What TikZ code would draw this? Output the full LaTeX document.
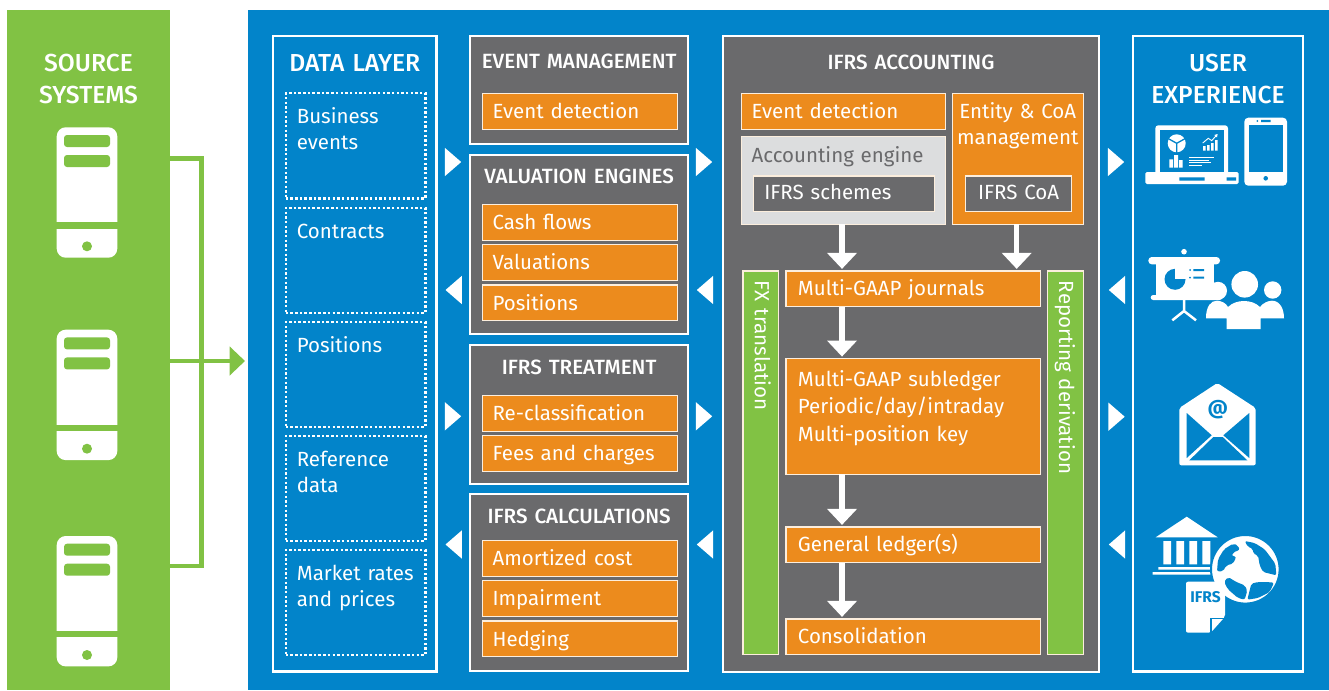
\documentclass[tikz,border=0pt]{standalone}
\usepackage{fontspec}
\setmainfont{Fira Sans}
\newfontfamily\medfont{Fira Sans Medium}
\usetikzlibrary{positioning}
\usetikzlibrary{arrows.meta}
\definecolor{srcgreen}{HTML}{81C244}
\definecolor{layerblue}{HTML}{0284CA}
\definecolor{rowamber}{HTML}{EC8B1D}
\definecolor{slate}{HTML}{6A6A6C}
\definecolor{mist}{HTML}{DCDDDE}
\newcommand{\bodyfont}{\fontsize{20.5}{26}\selectfont}
\newcommand{\headfont}{\medfont\fontsize{20.6}{32}\selectfont}
\newcommand{\bigfont}{\medfont\fontsize{24.6}{32}\selectfont}
\tikzset{
    cell/.style n args={3}{text width=#1, text height=#2, text depth=#3},
    column/.style={draw=white, line width=2.4pt, anchor=north west, outer sep=0pt, inner sep=0pt, text=white, align=center, font=\bigfont},
    panel/.style={draw=white, line width=2pt, fill=slate, anchor=north west, outer sep=0pt, inner sep=0pt, text=white, align=center, font=\headfont},
    slot/.style={draw=white, line width=2.4pt, dash pattern=on 2.4pt off 2.27pt, anchor=north west, outer sep=0pt, inner xsep=11pt, inner ysep=0pt, text=white, align=left, font=\bodyfont, cell={117.5pt}{30.6pt}{74.4pt}},
    tile/.style={draw=white!85!rowamber, line width=1.2pt, fill=rowamber, anchor=north west, outer sep=0pt, inner xsep=10pt, inner ysep=0pt, text=white, align=left, font=\bodyfont},
    row/.style={tile, cell={174.5pt}{25pt}{10.8pt}},
    wide/.style={tile, inner xsep=12pt, cell={230.5pt}{25pt}{10.8pt}},
    bar/.style={tile, fill=srcgreen, rotate=-90, anchor=west, cell={363.6pt}{24pt}{11.8pt}},
    flow/.style={draw=white, line width=5.5pt, shorten >=2pt, -{Triangle[length=16pt,width=29pt]}},
    feed/.style={draw=srcgreen, line width=4.8pt},
    gofwd/.pic={\fill[white] (-8.2,-14.2) -- (8.2,0) -- (-8.2,14.2) -- cycle;},
    goback/.pic={\fill[white] (8.2,-14.2) -- (-8.2,0) -- (8.2,14.2) -- cycle;},
    server/.pic={
        \fill[white, rounded corners=9pt] (-30.3,0) rectangle (30.3,130.4);
        \fill[srcgreen] (-31,95) rectangle (31,101.4);
        \fill[srcgreen, rounded corners=3pt] (-23,7.7) rectangle (23,19.7);
        \fill[srcgreen, rounded corners=3pt] (-23,27.7) rectangle (23,39.7);
        \fill[srcgreen] (0,119) circle (5pt);
    }
}

\begin{document}
\begin{tikzpicture}[x=1pt,y=-1pt]
    \useasboundingbox (0,0) rectangle (1329,690);
    \fill[srcgreen] (7,10) rectangle (170,690);
    \fill[layerblue] (248,10) rectangle (1329,690);

    % source systems
    \node[column, draw=none, cell={163pt}{35.5pt}{33pt}] (srchead) at (7,36.2) {SOURCE\\SYSTEMS};
    \pic at (87,127.3) {server};
    \pic at (87,329.7) {server};
    \pic at (87,536) {server};
    \coordinate (srcA) at (170,158.7);
    \coordinate (srcB) at (170,361);
    \coordinate (srcC) at (170,566);
    \coordinate (bus) at (201.7,361);
    \coordinate (datain) at (245,361);
    \draw[feed] (srcA) -- (srcA-|bus) -- (srcC-|bus) -- (srcC);
    \draw[feed, -{Triangle[length=15.5pt,width=28.5pt]}] (srcB) -- (datain);

    % data layer
    \node[column, cell={163.2pt}{35.5pt}{599.7pt}] (data) at (273.2,36.2) {DATA LAYER};
    \node[slot] (business) at (285.8,93.3) {Business\\events};
    \node[slot, below=9.7pt of business] (contracts) {Contracts};
    \node[slot, below=9.0pt of contracts] (positions) {Positions};
    \node[slot, below=9.0pt of positions] (refdata) {Reference\\data};
    \node[slot, below=9.0pt of refdata] (market) {\mbox{Market rates}\\and prices};

    % middle panels
    \node[panel, cell={218.3pt}{33pt}{74.7pt}] (evmgmt) at (470,36) {EVENT MANAGEMENT};
    \node[row] (evdetect) at (482.6,93.3) {Event detection};
    \node[panel, cell={218.3pt}{28.8pt}{150.5pt}] (valeng) at (470,154.7) {VALUATION ENGINES};
    \node[row] (cash) at (482.6,204.6) {Cash flows};
    \node[row, below=4.4pt of cash] (valuations) {Valuations};
    \node[row, below=4.4pt of valuations] (valpos) {Positions};
    \node[panel, cell={218.3pt}{28.8pt}{109.6pt}] (treat) at (470,345.3) {IFRS TREATMENT};
    \node[row] (reclass) at (482.6,395.3) {Re-classification};
    \node[row, below=4.4pt of reclass] (fees) {Fees and charges};
    \node[panel, cell={218.3pt}{29pt}{147.7pt}] (calc) at (470,494.3) {IFRS CALCULATIONS};
    \node[row] (amort) at (482.6,540.6) {Amortized cost};
    \node[row, below=4.4pt of amort] (impair) {Impairment};
    \node[row, below=4.4pt of impair] (hedge) {Hedging};

    % accounting
    \node[panel, fill=slate, cell={376.6pt}{33.3pt}{602.4pt}] (acct) at (722.7,36) {IFRS ACCOUNTING};
    \node[tile, cell={183.5pt}{25pt}{10.8pt}] (acdetect) at (741.6,93.9) {Event detection};
    \node[tile, fill=mist, text=slate, cell={183.5pt}{26pt}{62pt}] (engine) at (741.6,136.3) {Accounting engine};
    \node[tile, fill=slate, inner xsep=11pt, cell={158.8pt}{23.3pt}{12.2pt}] (schemes) at (753.3,176) {IFRS schemes};
    \node[tile, align=center, inner xsep=0pt, cell={131pt}{24.6pt}{105.9pt}] (entity) at (952.3,93.9) {Entity \& CoA\\management};
    \node[tile, fill=slate, align=center, inner xsep=0pt, cell={106pt}{23.3pt}{12.2pt}] (coa) at (965.6,176) {IFRS CoA};
    \node[wide] (journals) at (785.9,270.9) {Multi-GAAP journals};
    \node[wide, font=\fontsize{20.5}{27.8}\selectfont, cell={230.5pt}{27.5pt}{88pt}] (subledger) at (785.9,358.6) {Multi-GAAP subledger\\Periodic/day/intraday\\Multi-position key};
    \node[wide] (general) at (785.9,526.9) {General ledger(s)};
    \node[wide] (consol) at (785.9,618.9) {Consolidation};
    \node[bar] (fx) at (760.9,270.9) {FX translation};
    \node[bar] (report) at (1065.2,270.9) {Reporting derivation};
    \coordinate (flowx) at (842,270);
    \coordinate (coax) at (1016.7,270);
    \draw[flow] (engine.south-|flowx) -- (journals.north-|flowx);
    \draw[flow] (entity.south-|coax) -- (journals.north-|coax);
    \draw[flow] (journals.south-|flowx) -- (subledger.north-|flowx);
    \draw[flow] (subledger.south-|flowx) -- (general.north-|flowx);
    \draw[flow] (general.south-|flowx) -- (consol.north-|flowx);

    % user experience
    \node[column, cell={169.6pt}{35.5pt}{599.7pt}] (user) at (1133.2,36.2) {USER\\EXPERIENCE};

    % triangles between the columns
    \foreach \tx/\ty in {453/162,704/162,1116/162,453/416.3,704/416.3,1116.5/416.7} \pic at (\tx,\ty) {gofwd};
    \foreach \tx/\ty in {453.7/290,705/290,1117/290,453.7/544.5,705/544.5,1117/544.5} \pic at (\tx,\ty) {goback};

    % laptop and phone
    \fill[white, rounded corners=3pt] (1155.3,125.3) rectangle (1228,176);
    \fill[layerblue] (1160,129.5) rectangle (1224,171.7);
    \fill[white, rounded corners=1.5pt] (1145.3,172) rectangle (1238.7,184);
    \fill[layerblue] (1179.3,177.3) rectangle (1204.7,180.7) (1226.7,177.3) rectangle (1236,180.7);
    \fill[white] (1176.7,143.3) circle (9pt);
    \draw[layerblue, line width=1.3pt] (1176.7,143.3) -- +(0,10) (1176.7,143.3) -- +(-9,-5) (1176.7,143.3) -- +(9,-5);
    \fill[white] (1169.3,159.3) rectangle (1173,167.7) (1174,155) rectangle (1178,167.7) (1179,160) rectangle (1182.7,167.7);
    \fill[white] (1203,146) rectangle (1205.5,150.7) (1207,145) rectangle (1209.5,150.7) (1211,143) rectangle (1213.5,150.7) (1215,140) rectangle (1217.5,150.7);
    \draw[white, line width=.9pt, -{Triangle[length=3pt,width=3.5pt]}] (1202.7,143) -- (1208.3,138.3) -- (1211.7,140.7) -- (1217.6,134);
    \draw[white, line width=.9pt] (1189.3,157.3) -- (1214,157.3) (1189.3,160) -- (1209,160) (1189.3,162.5) -- (1211,162.5) (1189.3,165) -- (1202,165);
    \fill[white, rounded corners=4pt] (1244.3,117.7) rectangle (1287,185.7);
    \fill[layerblue] (1249,125) rectangle (1282.7,171.7);
    \fill[layerblue] (1265.7,178.3) circle (2.3pt) (1257.3,121) circle (1pt) (1261,120) rectangle (1270.7,122);

    % presentation
    \fill[white] (1184,251.7) circle (2.8pt);
    \fill[white, rounded corners=3.5pt] (1148.3,257) rectangle (1220,264.3);
    \fill[white] (1156,262) rectangle (1214,297);
    \fill[white, rounded corners=2.5pt] (1150.7,295) rectangle (1222,300);
    \fill[white] (1218,290.8) circle (9pt);
    \draw[white, line width=2.5pt] (1184,300) -- (1184,312) (1172.3,320.3) -- (1184,311) -- (1196,320.3);
    \fill[layerblue] (1175,279.3) circle (10.5pt);
    \fill[white] (1175,279.3) rectangle (1186.5,267.8);
    \fill[layerblue] (1190,270) circle (1pt) (1190,277.7) circle (1pt) (1193.3,269) rectangle (1204,271) (1193.3,276.7) rectangle (1204,278.7);
    \fill[white] (1244.7,284.3) circle (13.3pt) (1272.7,290) circle (8.7pt);
    \fill[white] (1206,318.3) .. controls (1206,306) and (1211,300.7) .. (1217,300.7) .. controls (1221,300.7) and (1226,303) .. (1228,307) .. controls (1232,303) and (1238,301) .. (1244,301) .. controls (1250,301) and (1256,303) .. (1260,307) .. controls (1263,303) and (1268,300.7) .. (1272,300.7) .. controls (1280,300.7) and (1284,309) .. (1284,318.3) -- (1260.7,318.3) -- (1260.7,329) -- (1226.7,329) -- (1226.7,318.3) -- cycle;

    % envelope
    \fill[white, rounded corners=2pt] (1217.3,383) -- (1255.7,408) -- (1255.7,465.3) -- (1179.3,465.3) -- (1179.3,408) -- cycle;
    \fill[layerblue] (1186.7,413) -- (1211.7,435.3) -- (1186.7,458) -- cycle;
    \fill[layerblue] (1249.3,413) -- (1223.3,435.3) -- (1249.3,458) -- cycle;
    \fill[layerblue] (1189.3,460.3) -- (1213.3,437) -- (1222.7,437) -- (1247.3,460.3) -- cycle;
    \node[text=layerblue, font=\fontsize{20}{20}\selectfont\bfseries, inner sep=0pt] (mailat) at (1217.7,409.5) {@};

    % bank, globe and sheet
    \fill[white] (1186.7,516.7) -- (1217.7,537.3) -- (1155.7,537.3) -- cycle;
    \fill[white] (1163.3,541) rectangle (1171,564.3) (1176.3,541) rectangle (1184,564.3) (1189.3,541) rectangle (1197,564.3) (1202.3,541) rectangle (1210.3,564.3);
    \fill[white] (1158.3,567) rectangle (1215,569.7) (1152.7,572) rectangle (1215,574.7);
    \filldraw[white, draw=layerblue, line width=2pt] (1245.3,569.3) circle (34.3pt);
    \begin{scope}[shift={(1208,532)},x=.3333pt,y=-.3333pt]
        \fill[layerblue, rounded corners=2pt] (75,35) -- (48,52) -- (30,82) -- (27,118) -- (45,118) -- (55,100) -- (75,95) -- (85,75) -- (70,70) -- (85,55) -- (95,55) -- (90,40) -- cycle;
        \fill[layerblue, rounded corners=2pt] (110,27) -- (120,45) -- (135,50) -- (135,65) -- (150,70) -- (155,100) -- (165,120) -- (205,130) -- (202,95) -- (170,52) -- (140,33) -- cycle;
        \fill[layerblue, rounded corners=2pt] (198,152) -- (185,180) -- (150,198) -- (118,203) -- (125,175) -- (130,155) -- (150,150) -- (175,150) -- cycle;
        \fill[layerblue, rounded corners=2pt] (60,135) -- (48,150) -- (60,172) -- (90,198) -- (110,203) -- (118,175) -- (110,160) -- (85,150) -- cycle;
    \end{scope}
    \fill[white, rounded corners=2pt] (1186,581.7) -- (1225,581.7) -- (1225,616.7) -- (1210.7,632.7) -- (1186,632.7) -- cycle;
    \draw[layerblue, line width=1.2pt] (1225,618.2) -- (1211,618.2) -- (1211,632.7);
    \node[text=layerblue, font=\fontsize{15.5}{15.5}\selectfont\bfseries, inner sep=0pt, anchor=base] (sheet) at (1205.5,602.7) {IFRS};
\end{tikzpicture}
\end{document}
